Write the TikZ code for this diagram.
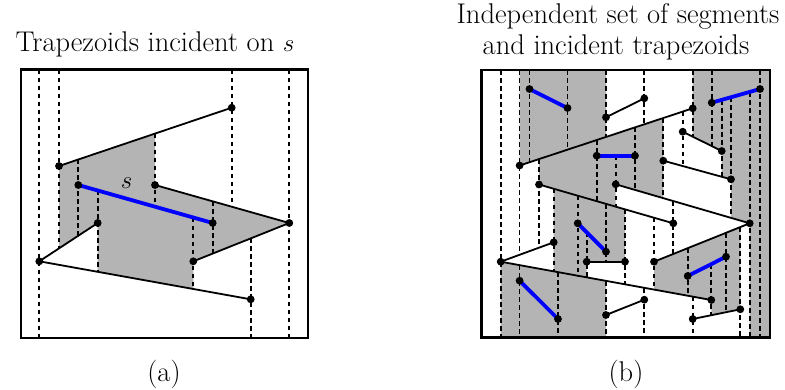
\documentclass[tikz,border=0pt]{standalone}
\definecolor{shadegray}{RGB}{180,180,180}
\definecolor{segblue}{RGB}{0,0,255}
\tikzset{
  seg/.style={line width=1.8pt, line cap=round},
  sseg/.style={segblue, line width=3.8pt, line cap=round},
  ext/.style={dash pattern=on 4.7pt off 3.3pt, line width=1.7pt},
  framebox/.style={line width=2.1pt},
  shade/.style={fill=shadegray},
  lbl/.style={font=\fontsize{28.5}{34}\selectfont, inner sep=0pt}
}
\begin{document}
\begin{tikzpicture}[x=1pt,y=-1pt]
\useasboundingbox (0,0) rectangle (785,389);
%----------------- left panel -----------------
\coordinate (a1) at (231.7,107.7);
\coordinate (a2) at (59,166);
\coordinate (s1) at (78.3,185);
\coordinate (s2) at (212.7,223);
\coordinate (a3) at (155,185);
\coordinate (a4) at (289.3,223);
\coordinate (a5) at (97.7,223);
\coordinate (a6) at (39.3,261.3);
\coordinate (a7) at (193.3,261.3);
\coordinate (a8) at (250.7,299.3);
\fill[shade] (a2) -- (155,133.59) -- (a3) -- (a4) -- (a7) -- (193.3,288.99) -- (97.7,271.80) -- (a5) -- (59,248.38) -- cycle;
\foreach \x/\ya/\yb in {39.3/69.5/338, 59/69.5/248.38, 78.3/159.48/235.72, 97.7/190.48/271.80,
  155/133.59/206.68, 193.3/217.51/288.99, 212.7/201.33/253.56, 231.7/69.5/206.70,
  250.7/238.40/338, 289.3/69.5/338}
  \draw[ext] (\x,\ya) -- (\x,\yb);
\draw[seg] (a2) -- (a1);
\draw[seg] (a3) -- (a4);
\draw[seg] (a7) -- (a4);
\draw[seg] (a6) -- (a5);
\draw[seg] (a6) -- (a8);
\draw[sseg] (s1) -- (s2);
\foreach \p in {a1,a2,a3,a4,a5,a6,a7,a8,s1,s2}
  \fill (\p) circle (3.9pt);
\draw[framebox] (20.7,69.5) rectangle (308.2,338);
\node[lbl] (slabel) at (126.5,183.5) {$s$};
\node[lbl, anchor=base] (titlea) at (155,51.7) {Trapezoids incident on $s$};
\node[lbl, anchor=base] (capa) at (164,381) {(a)};
%----------------- right panel -----------------
\coordinate (r1) at (500.7,261.7);
\coordinate (L1a) at (519.6,165.5);
\coordinate (L1b) at (692.7,108.3);
\coordinate (S5a) at (519.6,280.7);
\coordinate (S5b) at (558,319);
\coordinate (S1a) at (529.5,89);
\coordinate (S1b) at (567.5,108);
\coordinate (Aa) at (539,184.5);
\coordinate (Ab) at (673.3,223.3);
\coordinate (q11) at (553.7,242.3);
\coordinate (S4a) at (577.7,223.3);
\coordinate (S4b) at (606,251.7);
\coordinate (h12a) at (586.7,261.7);
\coordinate (h12b) at (625,261.7);
\coordinate (S3a) at (596.7,155.7);
\coordinate (S3b) at (635,155.7);
\coordinate (q2a) at (606,117.3);
\coordinate (q2b) at (644.3,98.3);
\coordinate (q17a) at (606,315);
\coordinate (q17b) at (644.3,299.7);
\coordinate (Ba) at (615.7,184.3);
\coordinate (Bb) at (749.7,223.3);
\coordinate (Da) at (654,261.7);
\coordinate (q7a) at (663.3,160.7);
\coordinate (q7b) at (731,179.3);
\coordinate (q5a) at (682.7,131.7);
\coordinate (q5b) at (721.7,151);
\coordinate (S6a) at (687.7,276);
\coordinate (S6b) at (726,256.7);
\coordinate (q18a) at (692.7,319);
\coordinate (q18b) at (740.3,309.3);
\coordinate (Cb) at (711.3,300);
\coordinate (S2a) at (711.7,102.7);
\coordinate (S2b) at (760,89);
% shaded trapezoids
\fill[shade] (519.6,70) -- (606,70) -- (606,136.95) -- (L1a) -- cycle;
\fill[shade] (539,159.09) -- (663.3,118.01) -- (663.3,198.15) -- (Ba) -- (615.7,206.66) -- (Aa) -- cycle;
\fill[shade] (553.7,188.75) -- (625,209.35) -- (h12b) -- (h12a) -- (586.7,277.34) -- (553.7,271.34) -- cycle;
\fill[shade] (r1) -- (606,280.85) -- (606,337.5) -- (500.7,337.5) -- cycle;
\fill[shade] (Da) -- (740.3,227.07) -- (q18b) -- (711.3,315.21) -- (Cb) -- (654,289.58) -- cycle;
\fill[shade] (692.7,70) -- (770,70) -- (770,337.5) -- (749.7,337.5) -- (Bb) -- (731,217.86) -- (q7b) -- (721.7,176.74) -- (q5b) -- (692.7,136.65) -- cycle;
% vertical extensions
\foreach \x/\ya/\yb in {500.7/70/337.5, 519.6/70/254.78, 519.6/265.14/337.5, 529.5/70/162.23,
  539/159.09/247.68, 553.7/188.75/271.34, 558/272.12/337.5, 567.5/70/149.67,
  577.7/195.68/275.70, 586.7/232.33/277.34, 596.7/140.02/201.17,
  606/70/136.95, 606/203.86/261.7, 606/280.85/337.5, 615.7/155.7/206.66,
  625/209.35/284.31, 635/127.37/189.92, 644.3/70/124.29, 644.3/287.81/337.5,
  654/217.72/289.58, 663.3/118.01/198.15, 673.3/201.06/253.96, 682.7/111.60/166.03,
  687.7/248.18/295.71, 692.7/70/136.65, 692.7/296.62/337.5, 711.3/264.11/315.21,
  711.7/70/146.05, 721.7/99.86/176.74, 726/232.81/312.21, 731/97.23/217.86,
  740.3/227.07/337.5, 749.7/91.92/337.5, 760/70/337.5}
  \draw[ext] (\x,\ya) -- (\x,\yb);
% segments
\draw[seg] (q2a) -- (q2b);
\draw[seg] (L1a) -- (L1b);
\draw[seg] (q5a) -- (q5b);
\draw[seg] (q7a) -- (q7b);
\draw[seg] (Aa) -- (Ab);
\draw[seg] (Ba) -- (Bb);
\draw[seg] (r1) -- (q11);
\draw[seg] (h12a) -- (h12b);
\draw[seg] (Da) -- (Bb);
\draw[seg] (r1) -- (Cb);
\draw[seg] (q17a) -- (q17b);
\draw[seg] (q18a) -- (q18b);
\draw[sseg] (S1a) -- (S1b);
\draw[sseg] (S2a) -- (S2b);
\draw[sseg] (S3a) -- (S3b);
\draw[sseg] (S4a) -- (S4b);
\draw[sseg] (S5a) -- (S5b);
\draw[sseg] (S6a) -- (S6b);
\foreach \p in {r1,L1a,L1b,S5a,S5b,S1a,S1b,Aa,Ab,q11,S4a,S4b,h12a,h12b,S3a,S3b,
  q2a,q2b,q17a,q17b,Ba,Bb,Da,q7a,q7b,q5a,q5b,S6a,S6b,q18a,q18b,Cb,S2a,S2b}
  \fill (\p) circle (3.9pt);
\draw[framebox] (481.5,70) rectangle (770,337.5);
\node[lbl, anchor=base] (titleb1) at (618,23.5) {Independent set of segments};
\node[lbl, anchor=base] (titleb2) at (616,54) {and incident trapezoids};
\node[lbl, anchor=base] (capb) at (626,381) {(b)};
\end{tikzpicture}
\end{document}
